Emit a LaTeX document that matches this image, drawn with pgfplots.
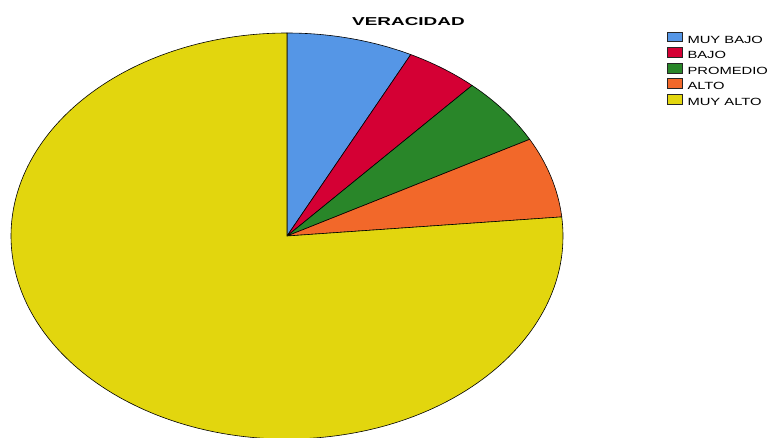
\documentclass[border=0pt]{standalone}
\usepackage{fontspec}
\setmainfont{Liberation Sans}
\usepackage{graphicx}
\usepackage{pgfplots}
\usepackage{pgfplotstable}
\pgfplotsset{compat=1.18}

\definecolor{cblue}{RGB}{85,150,230}
\definecolor{cred}{RGB}{212,0,52}
\definecolor{cgreen}{RGB}{41,134,41}
\definecolor{corange}{RGB}{242,104,42}
\definecolor{cyellow}{RGB}{226,214,14}

% percentages, clockwise from 12 o'clock
\pgfplotstableread[col sep=comma]{
label,value,color
MUY BAJO,7.4,cblue
BAJO,4.3,cred
PROMEDIO,5.4,cgreen
ALTO,6.4,corange
MUY ALTO,76.5,cyellow
}\veracidad

\begin{document}
\begin{tikzpicture}
\begin{axis}[
    at={(215.25pt,150.75pt)}, anchor=center,
    scale only axis, width=414pt, height=304.5pt,
    xmin=-1, xmax=1, ymin=-1, ymax=1,
    enlargelimits=false, hide axis, clip=false,
    title={\fontsize{8.6}{10}\selectfont\bfseries\scalebox{1.65}[1]{VERACIDAD}},
    title style={at={(0.720,1.008)}, anchor=center, inner sep=0pt},
    legend style={at={(1.1875,1.003)}, anchor=north west, draw=none, fill=none,
        inner sep=0pt, outer sep=0pt, row sep=0pt,
        font=\fontsize{7.8}{9}\selectfont,
        nodes={inner sep=0pt, text height=7pt, text depth=3.2pt},
        /tikz/every odd column/.append style={column sep=3.75pt}},
    legend cell align=left,
    legend image code/.code={\draw[#1, draw=black!85, line width=0.75pt] (0pt,-1pt) rectangle (11.25pt,6.2pt);},
]
\pgfplotsforeachungrouped \i in {0,...,4}{%
  \pgfplotstablegetelem{\i}{color}\of\veracidad
  \let\c\pgfplotsretval
  \pgfplotstablegetelem{\i}{label}\of\veracidad
  \let\l\pgfplotsretval
  \edef\leg{\noexpand\addlegendimage{fill=\c}\noexpand\addlegendentry{\noexpand\scalebox{1.42}[1]{\l}}}
  \leg
}
\def\cum{0}
\pgfplotsforeachungrouped \i in {0,...,4}{%
  \pgfplotstablegetelem{\i}{value}\of\veracidad
  \let\v\pgfplotsretval
  \pgfplotstablegetelem{\i}{color}\of\veracidad
  \let\c\pgfplotsretval
  \pgfmathsetmacro\a{90-3.6*\cum}
  \pgfmathsetmacro\b{90-3.6*(\cum+\v)}
  \pgfmathsetmacro\cum{\cum+\v}
  \edef\slice{\noexpand\draw[fill=\c, draw=black, line width=0.45pt]
    (axis cs:0,0) -- (axis cs:{cos(\a)},{sin(\a)})
    arc[start angle=\a, end angle=\b, x radius=207pt, y radius=152.25pt] -- cycle;}
  \slice
}
\end{axis}
\pgfresetboundingbox
\useasboundingbox (0,0) rectangle (576pt,327.75pt);
\end{tikzpicture}
\end{document}
